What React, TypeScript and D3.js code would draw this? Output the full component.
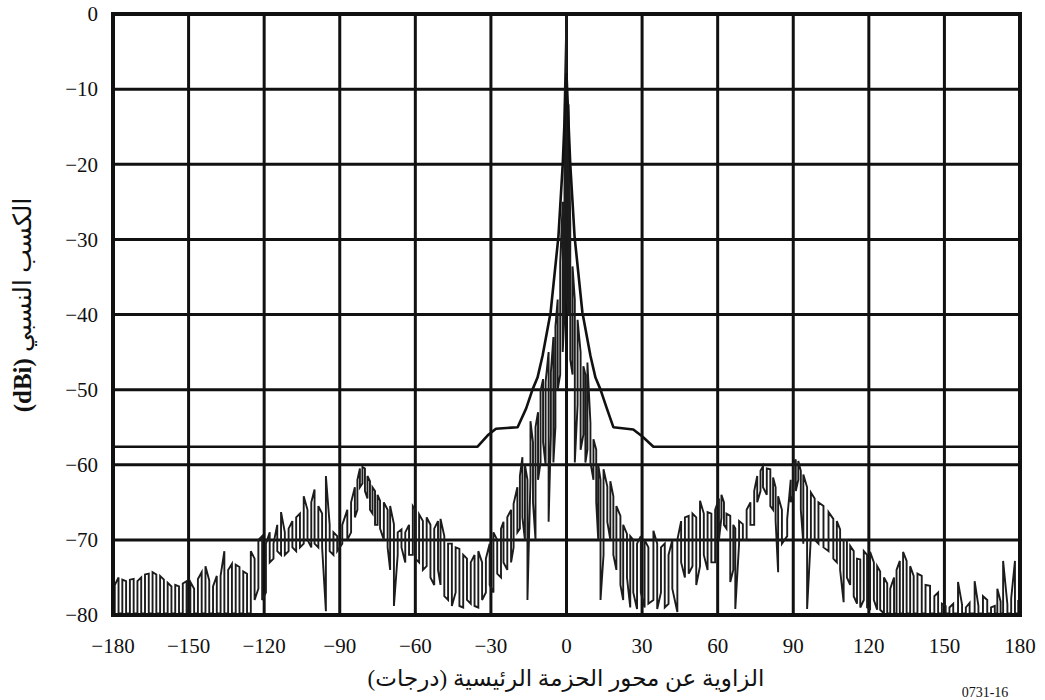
import React, { useEffect, useRef } from "react";
import * as d3 from "d3";

// Axis ticks
const angleTicks = [-180, -150, -120, -90, -60, -30, 0, 30, 60, 90, 120, 150, 180];
const gainTicks = [0, -10, -20, -30, -40, -50, -60, -70, -80];

// Reference envelope (mask), degrees vs dBi
const maskAngles = [-180, -35.3, -31, -28, -19.4, -16, -13.5, -11.5, -9.5, -6.3, -3.2, -1.5, 0, 1.5, 3.2, 6.3, 9.5, 11.5, 13.5, 16, 18.6, 26.5, 30, 34.5, 180];
const maskLevels = [-57.6, -57.6, -56, -55.2, -55, -52.5, -50, -48.4, -45.5, -39.7, -29.6, -20, -8, -20, -29.6, -39.7, -45.5, -48.4, -50, -52.5, -55, -55.3, -56.2, -57.6, -57.6];

// Measured pattern: [angle, upper level, lower level] of each swing of the trace
const patternSamples: [number, number, number][] = [
  [-179.3, -76, -79.8], [-177.8, -75, -79.8], [-176.3, -75.3, -79.8], [-174.8, -75.5, -79.8],
  [-173.3, -75.3, -79.8], [-171.8, -75.2, -79.8], [-170.3, -75.5, -79.8], [-168.8, -75, -79.8],
  [-167.3, -74.6, -79.8], [-165.8, -74.5, -79.8], [-164.3, -74.3, -79.8], [-162.8, -74.6, -79.8],
  [-161.3, -74.8, -79.8], [-159.8, -75.3, -79.8], [-158.3, -75.7, -79.8], [-156.8, -76.2, -79.8],
  [-155.3, -76, -79.8], [-153.8, -76.2, -79.8], [-152.3, -75.8, -79.8], [-150.8, -75.5, -79.8],
  [-149.3, -75.6, -79.8], [-147.8, -76.5, -79.8], [-146.3, -75.2, -79.8], [-144.8, -74.3, -79.8],
  [-143.3, -73.5, -79.8], [-141.8, -75.4, -79.8], [-140.3, -76.2, -79.8], [-138.8, -74.8, -79.8],
  [-137.3, -74.8, -79.8], [-135.8, -71.5, -79.8], [-134.3, -74, -79.8], [-132.8, -73.2, -79.8],
  [-131.3, -73.3, -79.8], [-129.8, -73.6, -79.8], [-128.3, -74.2, -79.8], [-126.8, -74.5, -79.8],
  [-125.3, -71.5, -79.8], [-123.8, -72.5, -78], [-122.3, -70, -76.5], [-120.8, -69.5, -78],
  [-119.3, -70.5, -77], [-117.8, -69, -73], [-116.3, -70.5, -72.5], [-114.8, -68, -71.5],
  [-113.3, -66.3, -72], [-111.8, -69, -72], [-110.3, -68.5, -71.5], [-108.8, -67.5, -71],
  [-107.3, -67, -71.5], [-105.8, -66.5, -71], [-104.3, -64.2, -70.5], [-102.8, -66, -70],
  [-101.3, -65, -71], [-100, -63.3, -70.5], [-98.5, -65.5, -71], [-97, -66.5, -71],
  [-95.5, -61.5, -79.5], [-94, -68, -71.5], [-92.5, -69, -72], [-91, -69.5, -71.5],
  [-89, -68, -70.5], [-87, -66, -70], [-85.5, -65, -69], [-84, -63, -67],
  [-83, -62, -66], [-82, -60.5, -63], [-81, -60.3, -62.5], [-80, -60.5, -63.5],
  [-79, -61.5, -64.5], [-78, -62.2, -66], [-77, -63, -66.5], [-76, -63.5, -68],
  [-75, -64, -68], [-74, -64.8, -68.5], [-72.5, -65, -70], [-71, -66, -71],
  [-70, -65.5, -74], [-68.5, -67.9, -78.8], [-67, -69, -72], [-65.5, -68.6, -71],
  [-64, -69, -73], [-62.5, -68, -72], [-61, -65.5, -72], [-60, -66, -72.5],
  [-58.5, -66.6, -73], [-57, -67.5, -74], [-55.5, -67, -73.5], [-54, -68, -75],
  [-52.5, -68.5, -76], [-51, -67.5, -74], [-50, -67.2, -76], [-48.5, -69.5, -77.5],
  [-47, -70.5, -78], [-45.5, -70.5, -78.8], [-44, -71, -77], [-42.5, -71.2, -78.8],
  [-41, -72, -79], [-39.5, -72.5, -78], [-38, -73, -78.5], [-36.5, -72, -78.8],
  [-35, -71.5, -79], [-33.5, -73, -78], [-32, -72.5, -77], [-30.5, -70.5, -76],
  [-29, -69, -77], [-27.5, -70, -74.5], [-26, -68.5, -75], [-25, -67.6, -73],
  [-23.5, -67, -74], [-22, -66, -73], [-21, -65.2, -71], [-19.5, -63, -69],
  [-18.5, -61.5, -68.5], [-17.5, -59, -67], [-16.5, -60, -70], [-15.5, -62, -78],
  [-14.3, -54.2, -62], [-13.3, -57, -65], [-12.3, -55, -70], [-11.3, -53, -62],
  [-10.3, -50.2, -59.7], [-9.3, -48.6, -57], [-8.3, -49, -60], [-7.1, -45, -67.6],
  [-6.2, -47.7, -56], [-5.2, -43, -59.7], [-4.4, -41.6, -55], [-3.5, -38, -50],
  [-2.5, -33, -48], [-1.5, -25, -45], [-0.8, -12, -40], [0, 0, -38],
  [0.8, -12, -40], [1.5, -28, -46], [2.4, -33.6, -48], [3.3, -38, -59.7],
  [4.4, -40.7, -52], [5.6, -45, -58], [6.7, -46.9, -56], [7.5, -48, -59.7],
  [8.3, -46.4, -58], [9.5, -54.4, -59.7], [10.7, -56.6, -62], [11.8, -58, -65],
  [12.6, -60, -70], [13.5, -62, -78], [14.7, -60.6, -72], [16.2, -62.9, -67.6],
  [17.4, -62.2, -70], [18.6, -64.2, -72], [19.8, -65.5, -74], [21.4, -66.8, -76],
  [22.5, -68, -78], [24, -69.2, -75], [25.3, -69.5, -79], [26.5, -70, -77],
  [28, -70.5, -79.2], [29.5, -69.5, -77], [31, -70, -79], [32.5, -71, -78.5],
  [34.5, -68.8, -78], [36, -70.5, -79.2], [37.5, -71, -77], [39, -70.5, -79],
  [40.5, -72, -78.5], [42, -70, -76.5], [44, -70, -79.6], [45.5, -67.5, -73],
  [47, -67, -75], [48.5, -66.8, -74.5], [50, -66.5, -73.5], [51.5, -67, -76],
  [53, -64.8, -73.5], [54.5, -66.5, -72], [56, -66.3, -74], [57.5, -66.5, -73],
  [59, -66, -73], [60.5, -64.5, -70], [61.5, -64, -67], [62.5, -65, -68],
  [63.5, -66.5, -68.5], [65, -66.8, -75.6], [66.2, -68, -74], [67, -68.5, -79.2],
  [68.5, -67.5, -70.5], [70, -67.9, -70], [71.5, -66, -70], [73, -65, -68],
  [74.5, -63.5, -68], [75.7, -61.5, -65], [77, -60.8, -63.5], [78, -60.2, -63],
  [79.5, -60.5, -64], [80.9, -60.6, -65.5], [82, -61.7, -66], [83, -63, -67.5],
  [84, -64.2, -74.3], [85.5, -66, -70.5], [87.6, -67.2, -69.5], [89, -62, -65],
  [90, -60, -64], [91, -59.3, -63.5], [92, -59.5, -62], [93, -60.8, -66],
  [94, -61.3, -70.5], [95.5, -63, -79.2], [97, -63.7, -69.5], [98.5, -64.5, -70],
  [100, -65, -70.5], [102, -65.5, -71], [104, -66.3, -71.5], [105.9, -67.2, -72.5],
  [107.3, -67.5, -73], [108.6, -68.6, -74], [110, -70, -78.3], [111.3, -70, -75],
  [112.6, -70.8, -76], [114, -71.5, -77.5], [115.3, -72.5, -78.5], [116.6, -72.6, -79],
  [118, -71.5, -78], [119.3, -72, -79], [120.5, -71.6, -79.2], [122, -73, -78],
  [123.3, -73.5, -79.3], [124.5, -74.2, -79.3], [126, -75, -79.8], [127.3, -75.8, -79.8],
  [128.5, -76.5, -79.8], [130, -75, -79.8], [131, -74, -79.8], [132.3, -72.8, -79.8],
  [133.6, -71.6, -79.8], [135, -72.8, -79.8], [136.4, -73.5, -79.8], [137.8, -74.8, -79.8],
  [139.3, -74.5, -79.8], [141, -74.8, -79.8], [142.5, -76, -79.8], [144.3, -76.1, -79.8],
  [146, -77.5, -79.8], [147.5, -77, -79.8], [149, -78.5, -79.8], [150.5, -78.8, -79.8],
  [152, -79, -79.8], [153.5, -78.5, -79.8], [155.4, -75.6, -79.8], [157, -78.6, -79.8],
  [158.5, -79, -79.8], [160, -78.4, -79.8], [162, -75.5, -79.8], [163.5, -78.8, -79.8],
  [165.3, -77.5, -79.8], [167, -78, -79.8], [168.5, -79, -79.8], [170, -78.8, -79.8],
  [171, -76.5, -79.8], [172.3, -78.2, -79.8], [173.3, -72.8, -79.8], [175, -78.6, -79.8],
  [176.5, -77.8, -79.8], [178, -72.8, -79.8], [179.3, -78, -79.8],
];

const W = 1045;
const H = 700;
const SERIF = "'Liberation Serif', 'Times New Roman', 'DejaVu Serif', serif";
const ARABIC = "'Liberation Serif', 'DejaVu Sans', serif";

export default function App() {
  const ref = useRef<SVGSVGElement | null>(null);

  useEffect(() => {
    const svg = d3.select(ref.current);
    svg.selectAll("*").remove();

    const x = d3.scaleLinear().domain([-180, 180]).range([113, 1020]);
    const y = d3.scaleLinear().domain([-80, 0]).range([615, 14]);

    svg.append("rect").attr("width", W).attr("height", H).attr("fill", "#fff");

    const clipId = "plot-clip";
    svg.append("clipPath").attr("id", clipId)
      .append("rect")
      .attr("x", x(-180)).attr("y", y(0))
      .attr("width", x(180) - x(-180)).attr("height", y(-80) - y(0));

    // Grid
    const grid = svg.append("g").attr("stroke", "#111").attr("stroke-width", 3);
    angleTicks.forEach((a) => {
      grid.append("line")
        .attr("x1", x(a)).attr("x2", x(a))
        .attr("y1", y(0)).attr("y2", y(-80));
    });
    gainTicks.forEach((g) => {
      grid.append("line")
        .attr("x1", x(-180)).attr("x2", x(180))
        .attr("y1", y(g)).attr("y2", y(g));
    });

    // Measured pattern trace: zig-zag between upper and lower levels
    const trace: [number, number][] = [];
    patternSamples.forEach(([a, hi, lo], i) => {
      if (i % 2 === 0) {
        trace.push([a, lo], [a, hi]);
      } else {
        trace.push([a, hi], [a, lo]);
      }
    });
    const line = d3.line<[number, number]>()
      .x((d) => x(d[0]))
      .y((d) => y(d[1]));

    svg.append("path")
      .attr("clip-path", `url(#${clipId})`)
      .attr("d", line(trace) ?? "")
      .attr("fill", "none")
      .attr("stroke", "#1c1c1c")
      .attr("stroke-width", 1.9)
      .attr("stroke-linejoin", "miter");

    // Envelope
    const mask: [number, number][] = maskAngles.map((a, i) => [a, maskLevels[i]]);
    svg.append("path")
      .attr("d", line(mask) ?? "")
      .attr("fill", "none")
      .attr("stroke", "#111")
      .attr("stroke-width", 2.6)
      .attr("stroke-linejoin", "round");

    // Frame
    svg.append("rect")
      .attr("x", x(-180)).attr("y", y(0))
      .attr("width", x(180) - x(-180)).attr("height", y(-80) - y(0))
      .attr("fill", "none").attr("stroke", "#111").attr("stroke-width", 4);

    const fmt = (v: number) => (v < 0 ? "\u2212" + Math.abs(v) : String(v));

    // Y tick labels
    svg.append("g").selectAll("text").data(gainTicks).join("text")
      .attr("x", 98)
      .attr("y", (d) => y(d))
      .attr("dy", "0.35em")
      .attr("text-anchor", "end")
      .attr("font-family", SERIF)
      .attr("font-size", 21)
      .attr("fill", "#111")
      .text(fmt);

    // X tick labels
    svg.append("g").selectAll("text").data(angleTicks).join("text")
      .attr("x", (d) => x(d))
      .attr("y", 653)
      .attr("text-anchor", "middle")
      .attr("font-family", SERIF)
      .attr("font-size", 21)
      .attr("fill", "#111")
      .text(fmt);

    // X axis title
    svg.append("text")
      .attr("x", 566).attr("y", 686)
      .attr("text-anchor", "middle")
      .attr("font-family", ARABIC)
      .attr("font-size", 23)
      .attr("fill", "#111")
      .attr("direction", "rtl")
      .text("الزاوية عن محور الحزمة الرئيسية (درجات)");

    // Y axis title
    const yTitle = svg.append("text")
      .attr("transform", "translate(31,305) rotate(-90)")
      .attr("text-anchor", "middle")
      .attr("font-family", ARABIC)
      .attr("font-size", 25)
      .attr("fill", "#111");
    yTitle.append("tspan").attr("font-weight", "bold").attr("font-family", SERIF).text("(dBi) ");
    yTitle.append("tspan").text("الكسب النسبي");

    // Figure reference
    svg.append("text")
      .attr("x", 985).attr("y", 697)
      .attr("text-anchor", "middle")
      .attr("font-family", SERIF)
      .attr("font-size", 14)
      .attr("fill", "#111")
      .text("0731-16");
  }, []);

  return (
    <svg
      ref={ref}
      width={W}
      height={H}
      style={{ position: "absolute", left: 0, top: 0, display: "block" }}
    />
  );
}
